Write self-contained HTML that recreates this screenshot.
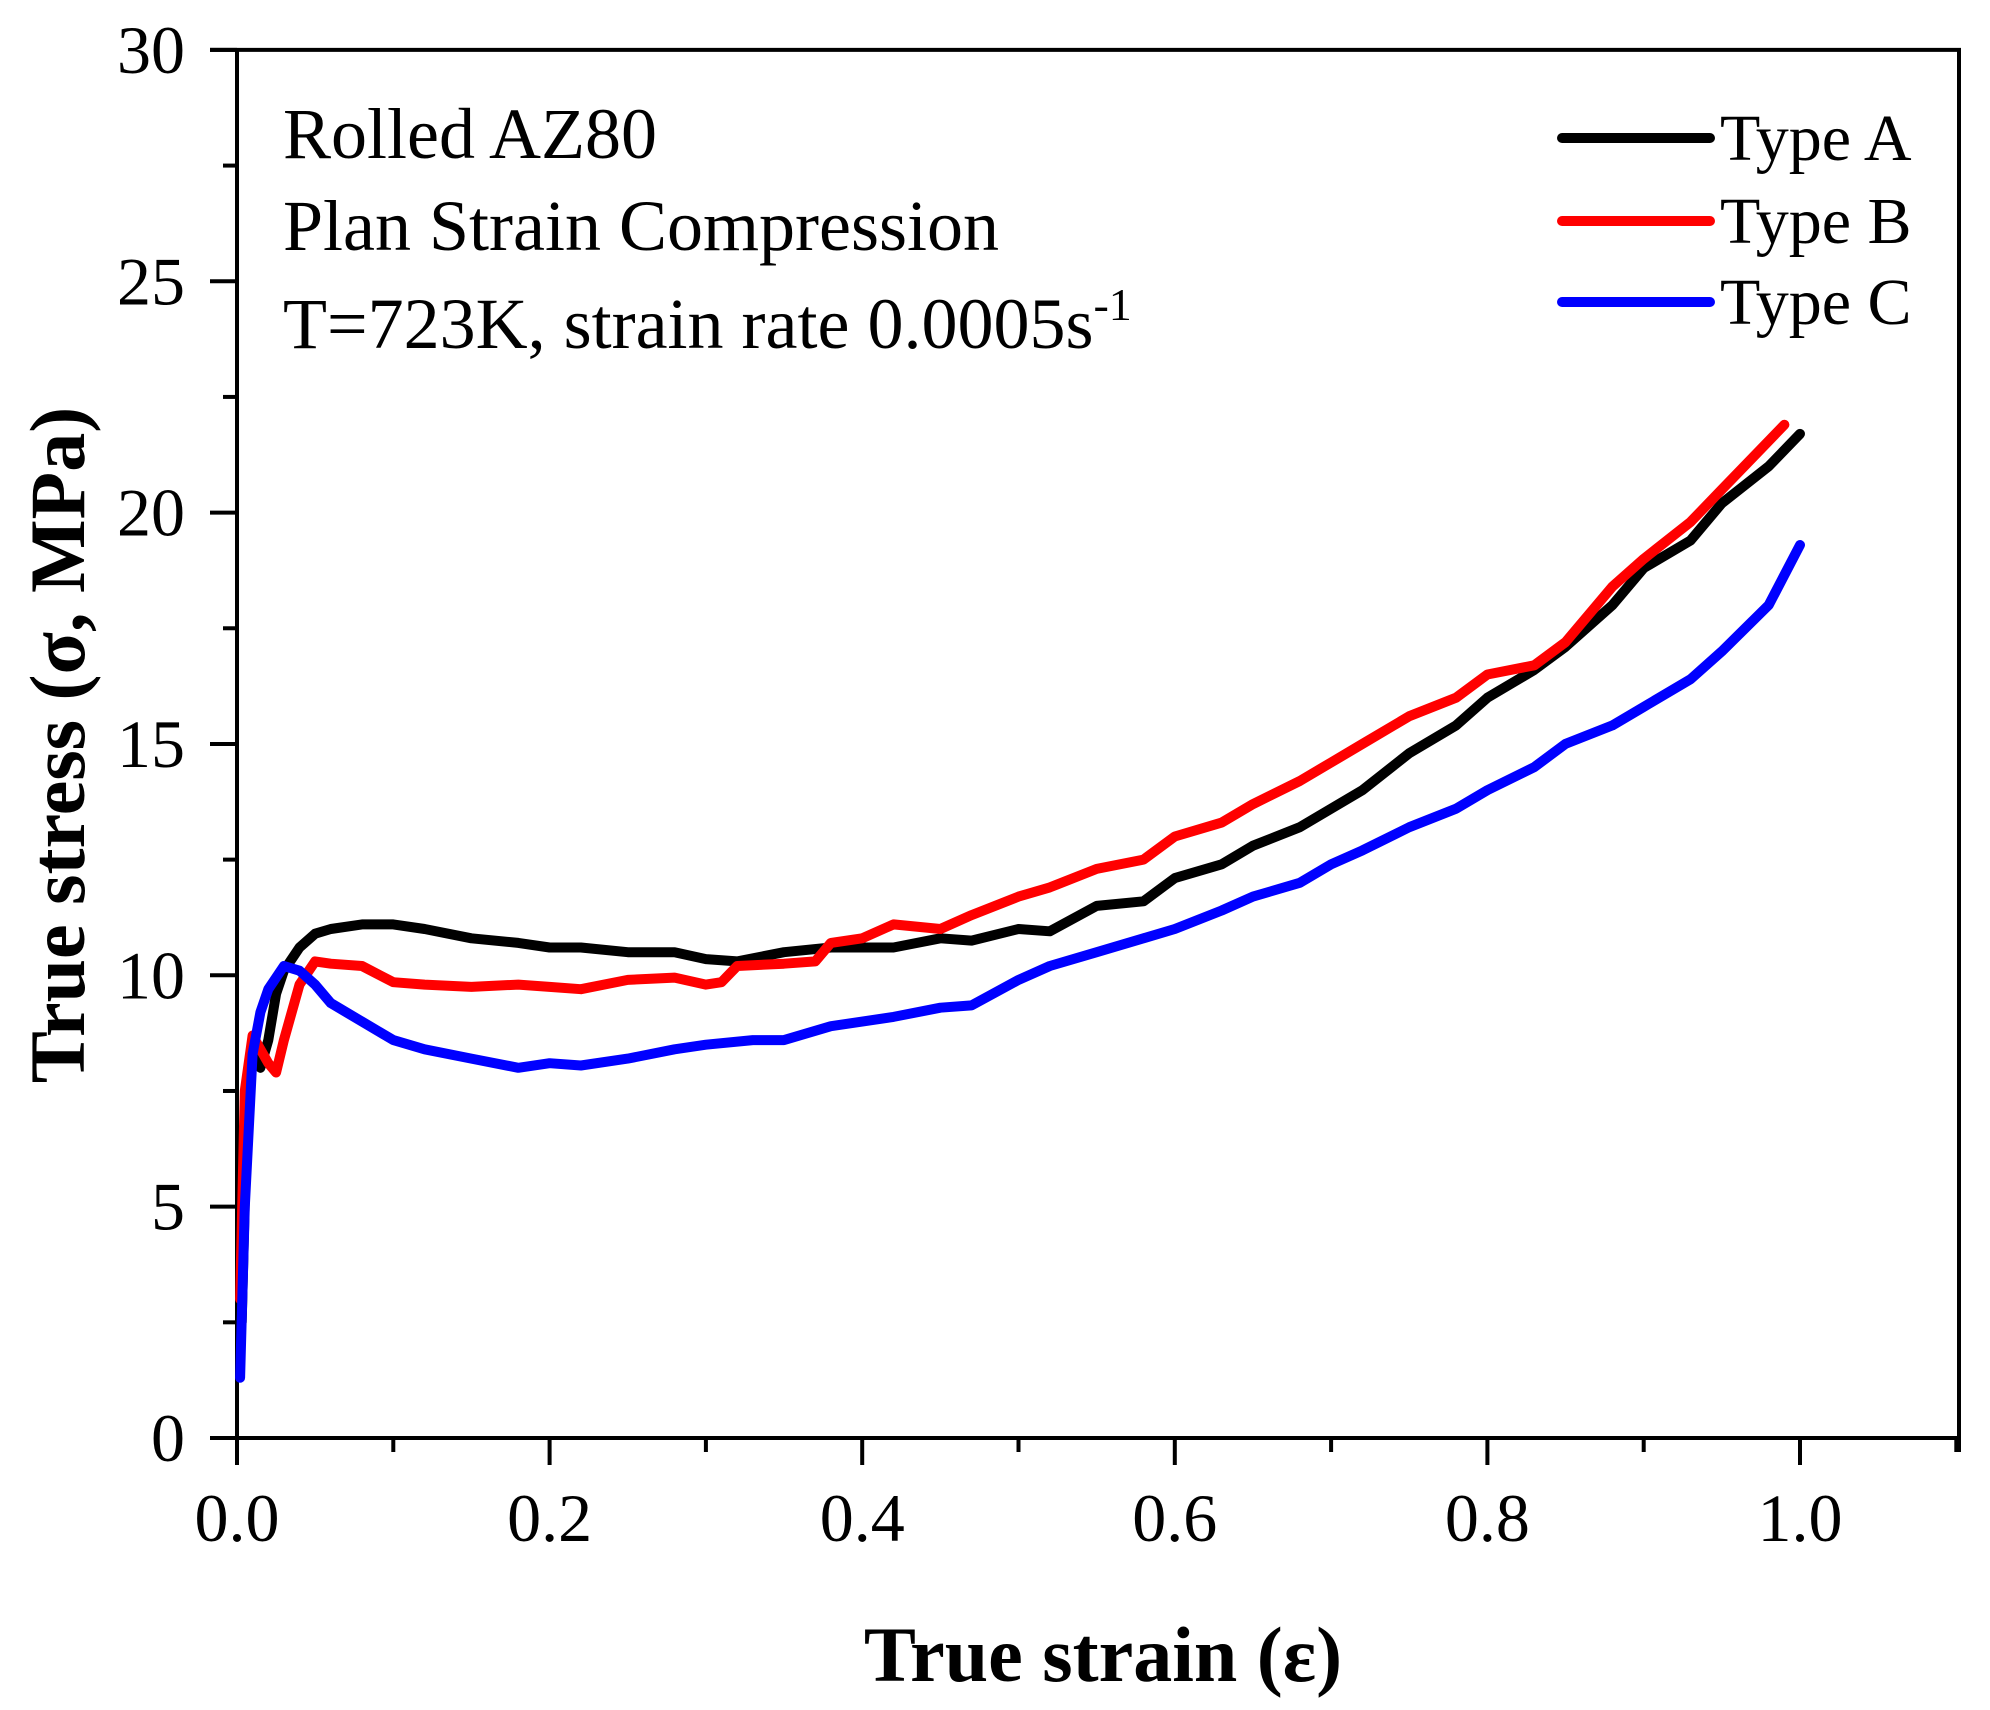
<!DOCTYPE html>
<html><head><meta charset="utf-8"><style>
html,body{margin:0;padding:0;background:#fff;width:1990px;height:1710px;overflow:hidden}
svg text{font-family:"Liberation Serif",serif;fill:#000}
</style></head><body>
<svg id="chart" width="1990" height="1710" viewBox="0 0 1990 1710" xmlns="http://www.w3.org/2000/svg">
<g id="axes"></g>
<g id="series"></g>
<g font-size="72">
<text x="283" y="158">Rolled AZ80</text>
<text x="283" y="250">Plan Strain Compression</text>
<text x="283" y="348">T=723K, strain rate 0.0005s<tspan dy="-28" font-size="46">-1</tspan></text>
</g>
<g id="legend"></g>
<text x="1103" y="1681" text-anchor="middle" font-size="78" font-weight="bold">True strain (ε)</text>
<text transform="translate(84,745) rotate(-90)" text-anchor="middle" font-size="78" font-weight="bold">True stress (σ, MPa)</text>
</svg>
<script>
const xTicks = [0.0, 0.2, 0.4, 0.6, 0.8, 1.0];
const xTickLabels = ["0.0", "0.2", "0.4", "0.6", "0.8", "1.0"];
const yTicks = [0, 5, 10, 15, 20, 25, 30];
const yTickLabels = ["0", "5", "10", "15", "20", "25", "30"];
const seriesNames = ["Type A", "Type B", "Type C"];
const seriesColors = ["#000000", "#ff0000", "#0000ff"];
const strainA = [0.003,0.006,0.01,0.015,0.02,0.025,0.03,0.04,0.05,0.06,0.08,0.1,0.12,0.15,0.18,0.2,0.22,0.25,0.28,0.3,0.32,0.35,0.38,0.4,0.42,0.45,0.47,0.5,0.52,0.55,0.58,0.6,0.63,0.65,0.68,0.7,0.72,0.75,0.78,0.8,0.83,0.85,0.88,0.9,0.93,0.95,0.98,1.0];
const stressA = [2.5,6.5,8.3,8.0,8.6,9.6,10.1,10.6,10.9,11.0,11.1,11.1,11.0,10.8,10.7,10.6,10.6,10.5,10.5,10.35,10.3,10.5,10.6,10.6,10.6,10.8,10.75,11.0,10.95,11.5,11.6,12.1,12.4,12.8,13.2,13.6,14.0,14.8,15.4,16.0,16.6,17.1,18.0,18.8,19.4,20.2,21.0,21.7];
const strainB = [0.002,0.005,0.01,0.015,0.02,0.025,0.03,0.04,0.05,0.06,0.08,0.1,0.12,0.15,0.18,0.2,0.22,0.25,0.28,0.3,0.31,0.32,0.35,0.37,0.38,0.4,0.42,0.45,0.47,0.5,0.52,0.55,0.58,0.6,0.63,0.65,0.68,0.7,0.72,0.75,0.78,0.8,0.83,0.85,0.88,0.9,0.93,0.95,0.97,0.99];
const stressB = [3.0,7.5,8.7,8.4,8.1,7.9,8.6,9.8,10.3,10.25,10.2,9.85,9.8,9.75,9.8,9.75,9.7,9.9,9.95,9.8,9.85,10.2,10.25,10.3,10.7,10.8,11.1,11.0,11.3,11.7,11.9,12.3,12.5,13.0,13.3,13.7,14.2,14.6,15.0,15.6,16.0,16.5,16.7,17.2,18.4,19.0,19.8,20.5,21.2,21.9];
const strainC = [0.002,0.005,0.01,0.015,0.02,0.03,0.04,0.05,0.06,0.08,0.1,0.12,0.15,0.18,0.2,0.22,0.25,0.28,0.3,0.33,0.35,0.38,0.4,0.42,0.45,0.47,0.5,0.52,0.55,0.58,0.6,0.63,0.65,0.68,0.7,0.72,0.75,0.78,0.8,0.83,0.85,0.88,0.9,0.93,0.95,0.98,1.0];
const stressC = [1.3,5.0,8.3,9.2,9.7,10.2,10.1,9.8,9.4,9.0,8.6,8.4,8.2,8.0,8.1,8.05,8.2,8.4,8.5,8.6,8.6,8.9,9.0,9.1,9.3,9.35,9.9,10.2,10.5,10.8,11.0,11.4,11.7,12.0,12.4,12.7,13.2,13.6,14.0,14.5,15.0,15.4,15.8,16.4,17.0,18.0,19.3];
const strains = [strainA, strainB, strainC];
const stresses = [stressA, stressB, stressC];

const NS = "http://www.w3.org/2000/svg";
const X0 = 237, XS = 1563, Y0 = 1438, YS = 46.27;
function xPos(v){ return X0 + v * XS; }
function yPos(v){ return Y0 - v * YS; }
function mk(tag, attrs, parent){ const e = document.createElementNS(NS, tag); for (const k in attrs) e.setAttribute(k, attrs[k]); parent.appendChild(e); return e; }

const axes = document.getElementById('axes');
const frame = mk('path', {d:`M${xPos(0)-27} ${yPos(30)} H1959 V${Y0+14} M1959 ${Y0} H${xPos(0)} V${yPos(30)}`, fill:'none', stroke:'#000', 'stroke-width':4}, axes);


for (let i = 0; i <= 11; i++) {
  const v = i / 10, major = i % 2 === 0;
  const t = mk('line', {x1:xPos(v), x2:xPos(v), y1:Y0, y2:Y0 + (major ? 27 : 14), stroke:'#000', 'stroke-width':4}, axes);
  
  
}
xTicks.forEach((v, i) => {
  const t = mk('text', {x:xPos(v), y:1541, 'text-anchor':'middle', 'font-size':68}, axes);
  t.textContent = xTickLabels[i];
  
  
});
for (let i = 0; i <= 12; i++) {
  const v = i * 2.5, major = i % 2 === 0;
  const t = mk('line', {x1:xPos(0), x2:xPos(0) - (major ? 27 : 14), y1:yPos(v), y2:yPos(v), stroke:'#000', 'stroke-width':4}, axes);
  
  
}
yTicks.forEach((v, i) => {
  const t = mk('text', {x:185, y:yPos(v) + 23, 'text-anchor':'end', 'font-size':68}, axes);
  t.textContent = yTickLabels[i];
  
  
});

const sg = document.getElementById('series');
const lg = document.getElementById('legend');
const legendY = [138, 221, 302];
seriesNames.forEach((name, s) => {
  const d = strains[s].map((x, i) => (i ? 'L' : 'M') + xPos(x).toFixed(1) + ' ' + yPos(stresses[s][i]).toFixed(1)).join(' ');
  const p = mk('path', {d:d, fill:'none', stroke:seriesColors[s], 'stroke-width':10, 'stroke-linejoin':'round', 'stroke-linecap':'round'}, sg);
  
  
  const l = mk('line', {x1:1562, x2:1710, y1:legendY[s], y2:legendY[s], stroke:seriesColors[s], 'stroke-width':10, 'stroke-linecap':'round'}, lg);
  
  
  const t = mk('text', {x:1720, y:legendY[s] + 22, 'font-size':66}, lg);
  t.textContent = name;
  
  
});
</script>
</body></html>
